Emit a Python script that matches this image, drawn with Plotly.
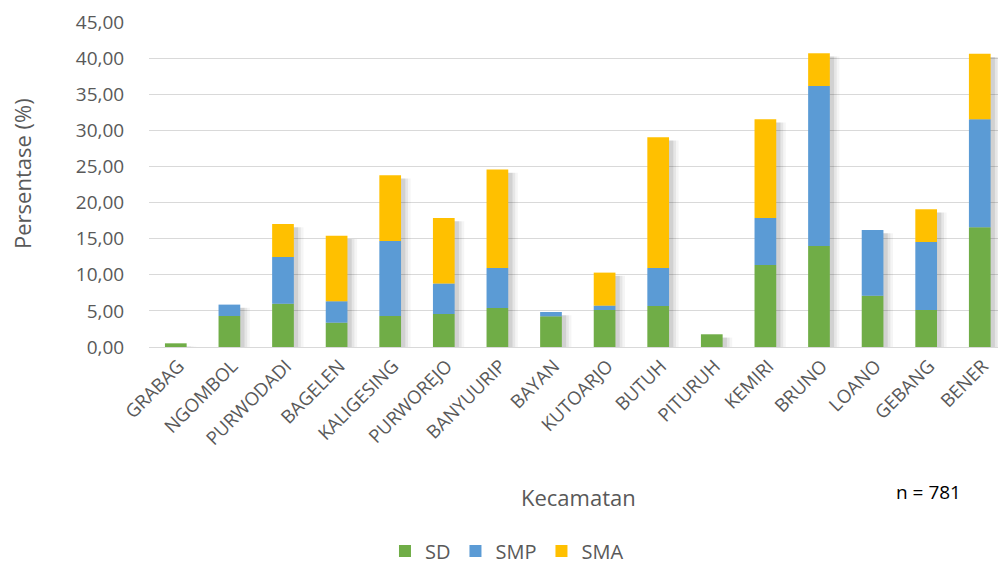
import plotly.graph_objects as go

# Kecamatan and percentage by education level
kecamatan = ["GRABAG", "NGOMBOL", "PURWODADI", "BAGELEN", "KALIGESING", "PURWOREJO",
             "BANYUURIP", "BAYAN", "KUTOARJO", "BUTUH", "PITURUH", "KEMIRI",
             "BRUNO", "LOANO", "GEBANG", "BENER"]
sd = [0.51, 4.29, 6.00, 3.37, 4.29, 4.57, 5.40, 4.25, 5.12, 5.68, 1.76, 11.36,
      13.99, 7.11, 5.12, 16.58]
smp = [0.00, 1.58, 6.46, 2.96, 10.39, 4.21, 5.54, 0.60, 0.61, 5.26, 0.00, 6.50,
       22.15, 9.09, 9.42, 14.95]
sma = [0.00, 0.00, 4.57, 9.09, 9.09, 9.08, 13.62, 0.00, 4.57, 18.10, 0.00, 13.67,
       4.53, 0.00, 4.53, 9.09]
y_ticks = [0, 5, 10, 15, 20, 25, 30, 35, 40, 45]

FONT = "Open Sans"
GREY = "#595959"
BAR_W = 0.405

base_smp = [a for a in sd]
base_sma = [a + b for a, b in zip(sd, smp)]
total = [a + b + c for a, b, c in zip(sd, smp, sma)]

fig = go.Figure()

# soft drop shadow behind each stacked column
for extra, alpha in [(0.16, 0.04), (0.11, 0.06), (0.06, 0.09)]:
    fig.add_trace(go.Bar(
        x=kecamatan, y=[t - 0.25 if t > 0.5 else t for t in total], base=-0.2,
        width=BAR_W + extra, offset=-BAR_W / 2 + 0.02,
        marker=dict(color=f"rgba(0,0,0,{alpha})", line=dict(width=0)),
        showlegend=False, hoverinfo="skip"))

fig.add_trace(go.Bar(x=kecamatan, y=sd, base=0, name="SD", width=BAR_W,
                     marker=dict(color="#70AD47", line=dict(width=0))))
fig.add_trace(go.Bar(x=kecamatan, y=smp, base=base_smp, name="SMP", width=BAR_W,
                     marker=dict(color="#5B9BD5", line=dict(width=0))))
fig.add_trace(go.Bar(x=kecamatan, y=sma, base=base_sma, name="SMA", width=BAR_W,
                     marker=dict(color="#FFC000", line=dict(width=0))))

fig.update_layout(
    width=998, height=564,
    barmode="overlay",
    separators=",.",
    plot_bgcolor="white", paper_bgcolor="white",
    margin=dict(l=149, r=0, t=22, b=217),
    font=dict(family=FONT, color=GREY),
    xaxis=dict(
        type="category", range=[-0.5, 15.34],
        tickangle=-45, tickfont=dict(family=FONT, size=18.5, color=GREY),
        showline=True, linecolor="#D9D9D9", linewidth=1,
        showgrid=False, ticks="", zeroline=False,
        ticklabelshift=3,
    ),
    yaxis=dict(
        range=[0, 45], tickvals=y_ticks, tickformat=".2f",
        tickfont=dict(family=FONT, size=19, color=GREY),
        showgrid=True, gridcolor="#D9D9D9", gridwidth=1,
        zeroline=False, showline=False,
        ticks="outside", ticklen=20, tickcolor="rgba(0,0,0,0)",
    ),
    legend=dict(
        orientation="h", xref="container", yref="container",
        x=0.508, xanchor="center", y=0.023, yanchor="middle",
        font=dict(family=FONT, size=20, color=GREY),
        traceorder="normal", itemwidth=30,
    ),
    annotations=[
        dict(text="Persentase (%)", xref="paper", yref="paper",
             x=(22 - 149) / 849, y=(347 - 174) / 325, textangle=-90,
             xanchor="center", yanchor="middle", showarrow=False,
             font=dict(family=FONT, size=22, color=GREY)),
        dict(text="Kecamatan", xref="paper", yref="paper",
             x=(578 - 149) / 849, y=(347 - 497) / 325,
             xanchor="center", yanchor="middle", showarrow=False,
             font=dict(family=FONT, size=22, color=GREY)),
        dict(text="n = 781", xref="paper", yref="paper",
             x=(928 - 149) / 849, y=(347 - 492) / 325,
             xanchor="center", yanchor="middle", showarrow=False,
             font=dict(family=FONT, size=19, color="#000000")),
    ],
)

fig.write_html("out.html")
